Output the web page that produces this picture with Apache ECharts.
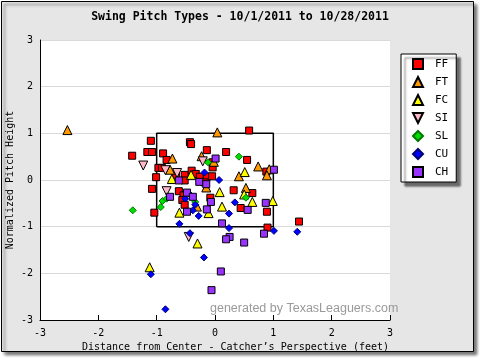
<!DOCTYPE html>
<html><head><meta charset="utf-8">
<script src="https://cdn.jsdelivr.net/npm/echarts@6/dist/echarts.min.js"></script>
<style>html,body{margin:0;padding:0;background:#fff}#c{width:480px;height:360px}</style>
</head><body><div id="c"></div>
<script>
const chartTitle = 'Swing Pitch Types - 10/1/2011 to 10/28/2011';
const xAxisName = 'Distance from Center - Catcher\u2019s Perspective (feet)';
const yAxisName = 'Normalized Pitch Height';
const watermark = 'generated by TexasLeaguers.com';
const xTicks = [-3, -2, -1, 0, 1, 2, 3];
const yTicks = [-3, -2, -1, 0, 1, 2, 3];
const pitchTypes = ['FF', 'FT', 'FC', 'SI', 'SL', 'CU', 'CH'];
const zoneX = [-1, 1, 1, -1, -1];
const zoneY = [-1, -1, 1, 1, -1];

const FF = [[0.585,1.06],[-1.10,0.84],[-0.43,0.81],[-0.41,0.77],[-1.42,0.52],[-1.16,0.60],[-1.08,0.60],
  [-0.89,0.57],[-0.14,0.64],[0.19,0.60],[-0.83,0.43],[0.55,0.43],[-0.04,0.38],[-0.04,0.27],[-0.97,0.26],
  [-0.91,0.26],[-1.01,0.06],[-0.67,0.10],[-0.52,0.11],[-0.40,0.20],[-0.33,0.13],[-0.26,0.07],[-0.14,0.07],
  [-0.05,0.08],[-0.52,-0.01],[-0.18,-0.05],[0.88,0.18],[-1.08,-0.19],[-0.62,-0.24],[0.32,-0.22],[0.64,-0.28],
  [-0.54,-0.33],[-0.56,-0.43],[-0.08,-0.38],[-0.52,-0.53],[-1.04,-0.70],[0.44,-0.60],[0.89,-0.68],[0.90,-1.02],
  [1.44,-0.89]];
const FT = [[-2.53,1.07],[0.04,1.02],[-0.23,0.51],[-0.73,0.46],[-0.02,0.39],[0.74,0.29],[-0.77,0.22],
  [0.93,0.23],[0.89,0.10],[0.41,0.08],[-0.15,-0.16],[0.53,-0.17],[-0.31,-0.57]];
const FC = [[-0.74,0.02],[-0.41,0.11],[0.51,0.17],[0.08,-0.26],[0.50,-0.31],[0.64,-0.47],[0.99,-0.45],
  [0.12,-0.57],[-0.61,-0.70],[-0.11,-0.71],[-0.30,-1.36],[-1.12,-1.87]];
const SI = [[-1.23,0.31],[-0.21,0.40],[-0.85,0.21],[-0.65,0.15],[-0.83,-0.24],[-0.45,-1.22]];
const SL = [[0.41,0.50],[-0.12,0.38],[-1.41,-0.65],[-0.90,-0.45],[-0.83,-0.40],[-0.34,-0.47],[0.53,-0.38],[-0.93,-0.58]];
const CU = [[-0.18,0.16],[0.07,0.00],[-0.43,-0.31],[-0.51,-0.40],[-0.34,-0.53],[-0.38,-0.65],[-0.28,-0.77],
  [0.34,-0.48],[0.24,-0.72],[-0.61,-0.94],[0.24,-1.03],[1.01,-1.09],[1.41,-1.11],[-0.43,-1.14],[-0.19,-1.66],
  [-1.10,-2.02],[-0.85,-2.77]];
const CH = [[0.01,0.46],[1.01,0.22],[-0.62,-0.01],[-0.27,-0.04],[-0.15,-0.09],[-0.48,-0.27],[-0.38,-0.36],
  [-0.77,-0.36],[-0.07,-0.47],[0.87,-0.49],[-0.48,-0.68],[-0.14,-0.63],[0.56,-0.64],[0.12,-0.93],[0.84,-1.15],
  [0.25,-1.22],[0.19,-1.27],[0.50,-1.34],[0.10,-1.96],[-0.06,-2.36]];

const seriesData = { FF, FT, FC, SI, SL, CU, CH };
const invTri = 'path://M0,0 L10,0 L5,10 Z';
const styles = {
  FF: { symbol: 'rect', size: 7, color: '#ff0000', border: '#000' },
  FT: { symbol: 'triangle', size: 9, color: '#ff9900', border: '#000' },
  FC: { symbol: 'triangle', size: 9, color: '#ffff00', border: '#000' },
  SI: { symbol: 'triangle', size: 9, color: '#ffb6c8', border: '#000', rotate: 180, icon: invTri },
  SL: { symbol: 'diamond', size: 7, color: '#00dd00', border: '#007700' },
  CU: { symbol: 'diamond', size: 7, color: '#0000ff', border: '#000077' },
  CH: { symbol: 'rect', size: 7, color: '#9933ff', border: '#000' }
};
const mono = 'DejaVu Sans Mono';

const chart = echarts.init(document.getElementById('c'), null, { renderer: 'canvas' });
const series = [{
  name: 'zone', type: 'line', z: 1, symbol: 'none', silent: true,
  data: zoneX.map((x, i) => [x, zoneY[i]]),
  lineStyle: { color: '#000', width: 1.5 }
}];
pitchTypes.forEach(t => {
  const s = styles[t];
  series.push({
    name: t, type: 'scatter', z: 3,
    symbol: s.symbol, symbolSize: s.size, symbolRotate: s.rotate || 0,
    data: seriesData[t],
    itemStyle: { color: s.color, borderColor: s.border, borderWidth: 1, opacity: 1 }
  });
});
const legendData = pitchTypes.map(t => styles[t].icon ? { name: t, icon: styles[t].icon } : { name: t });

chart.setOption({
  animation: false,
  backgroundColor: '#fff',
  title: {
    text: chartTitle, left: 'center', top: 6,
    textStyle: { fontFamily: mono, fontSize: 11.5, fontWeight: 'bold', color: '#000' }
  },
  graphic: [
    { type: 'rect', z: -100, shape: { x: 1.5, y: 1.5, width: 472, height: 350 },
      style: { fill: '#e6e6e6', stroke: '#000', lineWidth: 1,
        shadowColor: 'rgba(0,0,0,0.55)', shadowBlur: 3, shadowOffsetX: 3, shadowOffsetY: 3 } },
    { type: 'text', z: 100, left: 210, top: 302,
      style: { text: watermark, fill: '#9a9a9a', font: '12.5px "Liberation Sans"' } }
  ],
  legend: {
    data: legendData, orient: 'vertical', left: 401, top: 54,
    itemWidth: 10, itemHeight: 10, itemGap: 6,
    padding: [4, 8, 4, 11],
    backgroundColor: '#fff', borderColor: '#000', borderWidth: 1,
    shadowColor: 'rgba(0,0,0,0.55)', shadowBlur: 2, shadowOffsetX: 4, shadowOffsetY: 4,
    textStyle: { fontFamily: mono, fontSize: 11, color: '#000', lineHeight: 12, padding: [0, 0, 0, 7] }
  },
  grid: { left: 40, right: 90, top: 40, bottom: 40, show: true, backgroundColor: '#fff', borderWidth: 0,
    outerBoundsMode: 'none', containLabel: false },
  xAxis: {
    type: 'value', min: xTicks[0], max: xTicks[xTicks.length - 1], interval: 1,
    name: xAxisName, nameLocation: 'middle', nameGap: 22, nameMoveOverlap: false,
    nameTextStyle: { fontFamily: mono, fontSize: 10, color: '#000', padding: [0, 0, 0, 41] },
    axisLine: { onZero: false, lineStyle: { color: '#000', width: 1 } },
    axisTick: { show: true, inside: true, length: 5, lineStyle: { color: '#000' } },
    axisLabel: { fontFamily: mono, fontSize: 10, color: '#000', margin: 8 },
    splitLine: { show: false }
  },
  yAxis: {
    type: 'value', min: yTicks[0], max: yTicks[yTicks.length - 1], interval: 1,
    name: yAxisName, nameLocation: 'middle', nameGap: 25, nameMoveOverlap: false,
    nameTextStyle: { fontFamily: mono, fontSize: 10, color: '#000' },
    axisLine: { onZero: false, lineStyle: { color: '#000', width: 1 } },
    axisTick: { show: false },
    axisLabel: { fontFamily: mono, fontSize: 10, color: '#000', margin: 7 },
    splitLine: { show: true, lineStyle: { color: '#d9d9d9', width: 1 } }
  },
  series
});
</script></body></html>
